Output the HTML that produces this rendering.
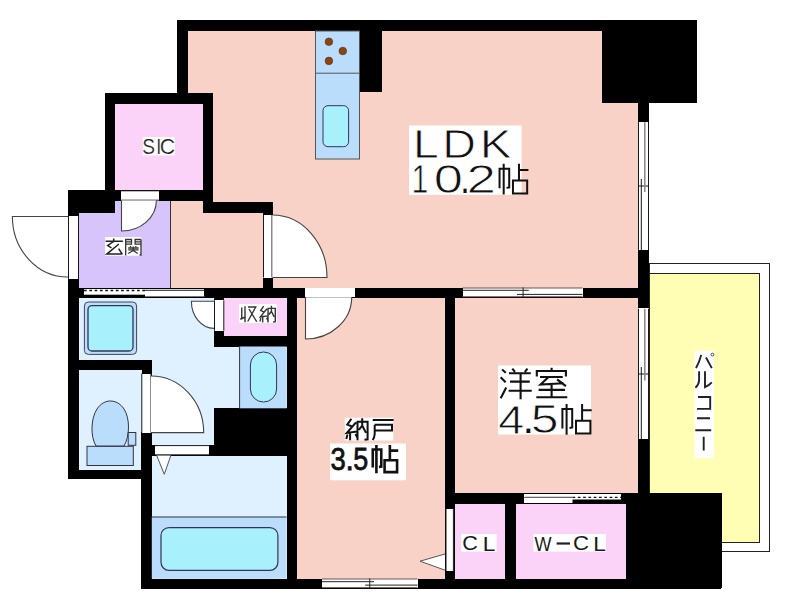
<!DOCTYPE html>
<html><head><meta charset="utf-8">
<style>
html,body{margin:0;padding:0;background:#fff;width:800px;height:605px;overflow:hidden}
svg{display:block}
text{font-family:"Liberation Sans",sans-serif}
</style></head>
<body>
<svg width="800" height="605" viewBox="0 0 800 605">
<!-- floors -->
<g shape-rendering="crispEdges">
<rect x="188" y="31" width="450" height="170" fill="#F8D2C6"/>
<rect x="170" y="200" width="468" height="388" fill="#F8D2C6"/>
<rect x="115" y="104" width="88" height="86" fill="#FBD3F9"/>
<rect x="79" y="200" width="91.5" height="88" fill="#D6C4FA"/>
<rect x="79" y="297" width="208" height="148" fill="#DFF1FF"/>
<rect x="79" y="370" width="63" height="100" fill="#DFF1FF"/>
<rect x="151" y="455" width="136" height="124" fill="#DFF1FF"/>
<rect x="224" y="297" width="63" height="39" fill="#FBD3F9"/>
<rect x="454" y="503" width="51" height="76" fill="#FBD3F9"/>
<rect x="515" y="503" width="111" height="76" fill="#FBD3F9"/>
</g>
<!-- balcony -->
<rect x="649.5" y="263.5" width="120" height="288" fill="#fff" stroke="#222" stroke-width="1"/>
<rect x="649.5" y="273.5" width="110" height="269" fill="#FFFEB4" stroke="#222" stroke-width="1"/>
<!-- thin line between entrance and corridor -->
<rect x="170" y="200" width="1" height="88" fill="#333"/>
<!-- walls -->
<g fill="#000" shape-rendering="crispEdges">
<rect x="177" y="20" width="520" height="11"/>
<rect x="602" y="20" width="95" height="83"/>
<rect x="638" y="103" width="11" height="19"/>
<rect x="638" y="250" width="11" height="58"/>
<rect x="638" y="439" width="11" height="54"/>
<rect x="626.2" y="493" width="95.3" height="95"/>
<rect x="141" y="578.5" width="580" height="10"/>
<rect x="177" y="20" width="11" height="84"/>
<rect x="104.5" y="93" width="108" height="11"/>
<rect x="104.5" y="93" width="10.5" height="120"/>
<rect x="202.5" y="93" width="10" height="119.5"/>
<rect x="68" y="190" width="144.5" height="10.5"/>
<rect x="68" y="190" width="47" height="23"/>
<rect x="68" y="190" width="11" height="26"/>
<rect x="202.5" y="202" width="70" height="10.5"/>
<rect x="263" y="202" width="9.5" height="13"/>
<rect x="263" y="277.5" width="9.5" height="10"/>
<rect x="68" y="279" width="11" height="200"/>
<rect x="79" y="287.5" width="559.5" height="10"/>
<rect x="213.75" y="297" width="10.5" height="49.5"/>
<rect x="213.75" y="336" width="83.25" height="10.5"/>
<rect x="286.5" y="297" width="10.8" height="291"/>
<rect x="68" y="360.4" width="84" height="9.6"/>
<rect x="141.6" y="360" width="10" height="73"/>
<rect x="141" y="432" width="10.8" height="156"/>
<rect x="68" y="470" width="84" height="9"/>
<rect x="213.6" y="408.3" width="73" height="47.5"/>
<rect x="151.6" y="445.3" width="62" height="10.5"/>
<rect x="444.5" y="297" width="10" height="291"/>
<rect x="444.5" y="493" width="181.5" height="10.75"/>
<rect x="504.5" y="503" width="11" height="76"/>
<rect x="359" y="31" width="23" height="61"/>
</g>

<!-- openings -->
<g fill="#fff" shape-rendering="crispEdges">
<rect x="121" y="190.5" width="38" height="10"/>
<rect x="68" y="216" width="11" height="63"/>
<rect x="263" y="215" width="9.5" height="62.5"/>
<rect x="638" y="122" width="11" height="128"/>
<rect x="638" y="308.7" width="11" height="130.7"/>
<rect x="84" y="288.6" width="120.4" height="8.4"/>
<rect x="305" y="287.5" width="49.5" height="9.7"/>
<rect x="462.5" y="287.5" width="120" height="9.7"/>
<rect x="214" y="300.3" width="10" height="30.5"/>
<rect x="141.6" y="373.6" width="9.6" height="59"/>
<rect x="155" y="445.3" width="54" height="9.7"/>
<rect x="445.5" y="508.75" width="8.25" height="62.5"/>
<rect x="524.3" y="493.75" width="96.7" height="9.25"/>
<rect x="322" y="578.5" width="95.5" height="9.5"/>
</g>
<!-- opening edge lines -->
<g stroke="#181818" stroke-width="1" fill="none">
<path d="M121 190.8H159M121 200.2H159"/>
<path d="M68.5 216V279M78.5 216V279"/>
<path d="M263.5 215V277.5M272 215V277.5"/>
<path d="M638.5 122V250M648.5 122V250M638 186H649"/>
<path d="M638.5 308.7V439.4M648.5 308.7V439.4M638 374H649"/>
<path d="M641.3 179V250M641.3 367V439.4"/>
<path d="M214.5 300.3V330.8M223.8 300.3V330.8"/>
<path d="M141.8 373.6V432.6M151 373.6V432.6"/>
<path d="M155 445.6H209M155 454.8H209"/>
<path d="M446 508.75V571.25M453.4 508.75V571.25"/>
</g>
<g stroke="#888" stroke-width="1.5" fill="none">
<path d="M644.8 122V192M644.8 308.7V380.6"/>
</g>
<!-- sliding doors -->
<g fill="none" stroke="#6b5550" stroke-width="1">
<path d="M462.5 288H582.5M462.5 296.7H582.5"/>
<path d="M322 579H417.5M322 587.6H417.5"/>
</g>
<g fill="none" stroke="#222" stroke-width="1">
<path d="M462.5 290.3H528.8M517 294.4H582.5M523.1 287.5V297.2"/>
<path d="M322 581.7H374M365.2 585.1H417.5M369.75 578.5V588"/>
<path d="M145 290.3H204.4"/>
</g>
<path d="M145 296.5H204.4" stroke="#777" stroke-width="1"/>
<path d="M84 290.5H145" stroke="#111" stroke-width="1.3" stroke-dasharray="2.7 2.6"/>
<rect x="84" y="294.7" width="61" height="2.5" fill="#000"/>
<path d="M524.3 497.3H572.5" stroke="#666" stroke-width="1.3"/>
<path d="M572.5 497.3H621" stroke="#111" stroke-width="1.3" stroke-dasharray="2.7 2.6"/>
<rect x="572.5" y="499.5" width="48.5" height="4.25" fill="#000"/>
<!-- door swings -->
<g fill="#fff" stroke="#444" stroke-width="1.1">
<path d="M68 216.5H12.4A55.6 60.5 0 0 0 68 277" />
<path d="M121.5 200.5V231A34.9 30.5 0 0 0 156.4 200.5"/>
<path d="M272.5 277.5H327A54.5 62.5 0 0 0 272.5 215"/>
<path d="M305.5 297.2V339A46.2 41.8 0 0 0 351.7 297.2"/>
<path d="M214 301.3H191.4A22.6 27.1 0 0 0 214 328.4"/>
<path d="M151 432.6H203.7A52.7 56.6 0 0 0 151 376"/>
</g>
<g fill="#fff" stroke="#555" stroke-width="1">
<path d="M445 554L420 561.2L445 570.2"/>
<path d="M156.7 455.5L164.3 474.3L170.8 455.5"/>
</g>
<!-- kitchen -->
<rect x="315.5" y="31" width="44" height="128" fill="#BBDDFC" stroke="#555" stroke-width="1"/>
<path d="M315.5 73.2H359.5" stroke="#555" stroke-width="1"/>
<rect x="323" y="105.7" width="25.6" height="41" rx="5" fill="#A8F0FC" stroke="#335" stroke-width="1"/>
<g fill="#8A4512" stroke="#5a2a08" stroke-width="0.6">
<circle cx="328.9" cy="41.7" r="3.8"/>
<circle cx="342.8" cy="51" r="3.8"/>
<circle cx="328.9" cy="60.9" r="3.8"/>
</g>
<!-- wash basin -->
<rect x="84.4" y="302" width="52.2" height="52.4" rx="4" fill="#BBDDFC" stroke="#445" stroke-width="1"/>
<rect x="88" y="305.6" width="45" height="45.4" rx="4" fill="#A8F0FC" stroke="#335" stroke-width="1.3"/>
<!-- washing machine -->
<rect x="239.6" y="346.5" width="47" height="61.8" fill="#BBDDFC"/>
<path d="M239.6 346.5V408.3" stroke="#334" stroke-width="1"/>
<rect x="250.4" y="352" width="26.2" height="50" rx="13" fill="#A8F0FC" stroke="#335" stroke-width="1"/>
<!-- toilet -->
<rect x="87" y="446.3" width="46.3" height="19.2" fill="#BBDDFC" stroke="#334" stroke-width="1"/>
<path d="M96 446C90 436 91 418 97 409C101 403 106 401 110.3 401C115 401 120 403 124 409C130 418 130 436 124 446Z" fill="#BBDDFC" stroke="#334" stroke-width="1"/>
<rect x="128.2" y="432.5" width="7.6" height="12.8" fill="#BBDDFC" stroke="#334" stroke-width="1"/>
<!-- bath -->
<rect x="151.8" y="516.8" width="134.7" height="61.7" fill="#BBDDFC"/>
<path d="M151.8 517H286.5" stroke="#334" stroke-width="1"/>
<rect x="161" y="527.6" width="116.9" height="42.7" rx="8" fill="#A8F0FC" stroke="#335" stroke-width="1.2"/>

<!-- labels -->
<rect x="409" y="125.5" width="112.60" height="69.30" fill="#fff"/>
<text transform="matrix(0.4636,0,0,0.4000,412.89,157.50)" font-size="100" fill="#111" stroke="#fff" stroke-width="2">L</text>
<text transform="matrix(0.4661,0,0,0.4000,442.27,157.50)" font-size="100" fill="#111" stroke="#fff" stroke-width="2">D</text>
<text transform="matrix(0.4789,0,0,0.4000,479.87,157.50)" font-size="100" fill="#111" stroke="#fff" stroke-width="2">K</text>
<text transform="matrix(0.3023,0,0,0.4000,411.48,193.30)" font-size="100" fill="#111" stroke="#fff" stroke-width="2">1</text>
<text transform="matrix(0.5250,0,0,0.4000,433.80,192.90)" font-size="100" fill="#111" stroke="#fff" stroke-width="2">0</text>
<text transform="matrix(0.5304,0,0,0.4000,466.55,193.30)" font-size="100" fill="#111" stroke="#fff" stroke-width="2">2</text>
<text transform="matrix(0.3250,0,0,0.4000,460.57,193.30)" font-size="100" fill="#111">.</text>
<path d="M 503.69 163.85 V 194.60 M 499.54 188.29 V 168.86 H 509.21 V 187.39 L 506.55 187.89 M 518.98 163.85 V 180.38 M 518.98 170.06 H 528.45 M 512.96 180.58 H 527.17 V 193.50 H 512.96 Z" fill="none" stroke="#111" stroke-width="2" stroke-linecap="butt" stroke-linejoin="miter"/>
<rect x="142.75" y="137" width="32.25" height="18.40" fill="#fff"/>
<text transform="matrix(0.1912,0,0,0.2196,142.14,154.03)" font-size="100" fill="#222" stroke="#fff" stroke-width="1">S</text>
<text transform="matrix(0.1800,0,0,0.2196,156.18,154.25)" font-size="100" fill="#222" stroke="#fff" stroke-width="1">I</text>
<text transform="matrix(0.2143,0,0,0.2196,159.68,154.03)" font-size="100" fill="#222" stroke="#fff" stroke-width="1">C</text>
<rect x="105.1" y="237.1" width="36.30" height="18.60" fill="#fff"/>
<path d="M113.7 238.6 V240.5 M105.6 241.2 H122.9 M113.4 241.6 L107.7 245.4 L111.5 248 M118.9 244 L106.8 254.1 H121.4 M118.6 248.7 L122.4 254.4" fill="none" stroke="#222" stroke-width="1.5" stroke-linecap="butt" stroke-linejoin="miter"/>
<path d="M125.7 255.4 V239.5 H131.5 V244.2 H125.7 M125.7 241.8 H131.5 M141 239.5 V255 L139.6 255 M141 239.5 H135.1 V244.2 H141 M135.1 241.8 H141 M130.1 246 L130.8 247 M136.2 246 L135.5 247 M128.2 248 H138.6 M128.2 249.9 H138.6 M133.2 246.5 V250.5 L128.2 253.5 M133.2 250.5 L137.7 253.5" fill="none" stroke="#333" stroke-width="1.3" stroke-linecap="butt" stroke-linejoin="miter"/>
<rect x="239" y="304.1" width="37.70" height="19.00" fill="#fff"/>
<path d="M241.75 307.5 V318.5 M245 306.25 V322.25 M240.25 319.25 L245.75 316.75 M248 307 H255.75 L247.75 321.5 M249 309 L256.75 321.75" fill="none" stroke="#333" stroke-width="1.4" stroke-linecap="butt" stroke-linejoin="miter"/>
<path d="M 263.62 306.03 L 260.66 310.53 L 263.69 311.83 M 266.94 308.78 L 260.29 316.93 L 267.66 315.87 M 262.68 315.79 V 322.50 M 260.80 318.08 L 259.93 321.51 M 266.58 317.70 L 267.87 320.37 M 268.02 322.50 V 308.40 H 275.31 V 321.74 L 273.07 322.04 M 271.41 305.73 V 311.22 L 269.03 314.50 M 271.41 311.22 L 274.16 316.86" fill="none" stroke="#333" stroke-width="1.4" stroke-linecap="butt" stroke-linejoin="miter"/>
<rect x="344.8" y="417.7" width="48.45" height="22.80" fill="#fff"/>
<path d="M351.4 418.7 L347.3 424.6 L351.5 426.3 M356 422.3 L346.8 433 L357 431.6 M350.1 431.5 V440.3 M347.5 434.5 L346.3 439 M355.5 434 L357.3 437.5 M357.5 440.3 V421.8 H367.6 V439.3 L364.5 439.7 M362.2 418.3 V425.5 L358.9 429.8 M362.2 425.5 L366 432.9" fill="none" stroke="#111" stroke-width="2" stroke-linecap="butt" stroke-linejoin="miter"/>
<path d="M372.7 420 H393.6 M374.7 424.8 H392 V430.5 H374.7 M374.7 424.8 V434 Q374.5 437.5 372.7 440" fill="none" stroke="#111" stroke-width="2" stroke-linecap="butt" stroke-linejoin="miter"/>
<rect x="330" y="443.5" width="76.00" height="36.75" fill="#fff"/>
<text transform="matrix(0.2745,0,0,0.3116,330.50,469.54)" font-size="100" fill="#111" stroke="#111" stroke-width="2.5">3</text>
<text transform="matrix(0.3000,0,0,0.3116,345.40,469.85)" font-size="100" fill="#111" stroke="#111" stroke-width="2.5">.</text>
<text transform="matrix(0.2691,0,0,0.3116,353.32,469.54)" font-size="100" fill="#111" stroke="#111" stroke-width="2.5">5</text>
<path d="M 376.41 444.93 V 473.18 M 372.76 467.39 V 449.53 H 381.27 V 466.56 L 378.93 467.02 M 389.87 444.93 V 460.12 M 389.87 450.64 H 398.21 M 384.57 460.30 H 397.08 V 472.17 H 384.57 Z" fill="none" stroke="#111" stroke-width="2.6" stroke-linecap="butt" stroke-linejoin="miter"/>
<rect x="498" y="365.5" width="93.00" height="69.00" fill="#fff"/>
<path d="M502.1 369.5 L505.8 372.8 M500.7 377.2 L505.6 382.2 M500.7 398.2 L506.2 387.6 M512.3 368.6 L515 371.9 M527.5 368.6 L524.8 371.9 M509 373.25 H530.8 M510 381.6 H529.8 M508.6 390.8 H531.7 M520.6 373.25 V399.2" fill="none" stroke="#111" stroke-width="2.1" stroke-linecap="butt" stroke-linejoin="miter"/>
<path d="M551.6 367.7 V371 M536.8 376.5 V371 H565.9 V376.5 M540 377 H562.7 M548.3 377.2 L540.5 384.5 L563.5 383.3 M557.1 379.3 L565.9 386.2 M538.6 389.9 H565 M551.6 384 V397.3 M536.3 397.3 H567.3" fill="none" stroke="#111" stroke-width="2.1" stroke-linecap="butt" stroke-linejoin="miter"/>
<text transform="matrix(0.4686,0,0,0.4000,498.16,433.70)" font-size="100" fill="#111" stroke="#fff" stroke-width="2">4</text>
<text transform="matrix(0.4000,0,0,0.4000,522.70,433.30)" font-size="100" fill="#111">.</text>
<text transform="matrix(0.5000,0,0,0.4000,530.80,432.90)" font-size="100" fill="#111" stroke="#fff" stroke-width="2">5</text>
<path d="M566.6 404 V434.7 M562.4 428.4 V409 H572.2 V427.5 L569.5 428 M582.1 404 V420.5 M582.1 410.2 H591.7 M576 420.7 H590.4 V433.6 H576 Z" fill="none" stroke="#111" stroke-width="2" stroke-linecap="butt" stroke-linejoin="miter"/>
<rect x="694.5" y="350.7" width="19.50" height="107.30" fill="#fff"/>
<path d="M701.2 354.9 Q699.5 362 696 368.1 M706 357.5 L711.8 368.1 M699.1 371.3 V380.3 Q698.8 385 695.4 387.7 M705 371.3 V387.2 Q709 385.5 711.8 382.4 M698 397 H710.2 V408.9 H697 M697 418.2 H710 M695.3 430.2 H711.2 M703.7 436.7 V450.4" fill="none" stroke="#222" stroke-width="1.9" stroke-linecap="butt" stroke-linejoin="miter"/>
<circle cx="712.4" cy="354.6" r="1.4" fill="none" stroke="#333" stroke-width="0.9"/>
<rect x="461" y="534" width="35.60" height="17.60" fill="#fff"/>
<text transform="matrix(0.2159,0,0,0.2029,462.32,550.40)" font-size="100" fill="#1a1a1a">C</text>
<text transform="matrix(0.2273,0,0,0.2029,482.78,550.60)" font-size="100" fill="#1a1a1a">L</text>
<rect x="533.4" y="534" width="72.60" height="17.60" fill="#fff"/>
<text transform="matrix(0.1806,0,0,0.2029,534.42,550.60)" font-size="100" fill="#1a1a1a">W</text>
<rect x="556.6" y="542.4" width="13.4" height="2.2" fill="#222"/>
<text transform="matrix(0.2222,0,0,0.2029,572.89,550.40)" font-size="100" fill="#1a1a1a">C</text>
<text transform="matrix(0.2273,0,0,0.2029,593.18,550.60)" font-size="100" fill="#1a1a1a">L</text>
</svg>
</body></html>
